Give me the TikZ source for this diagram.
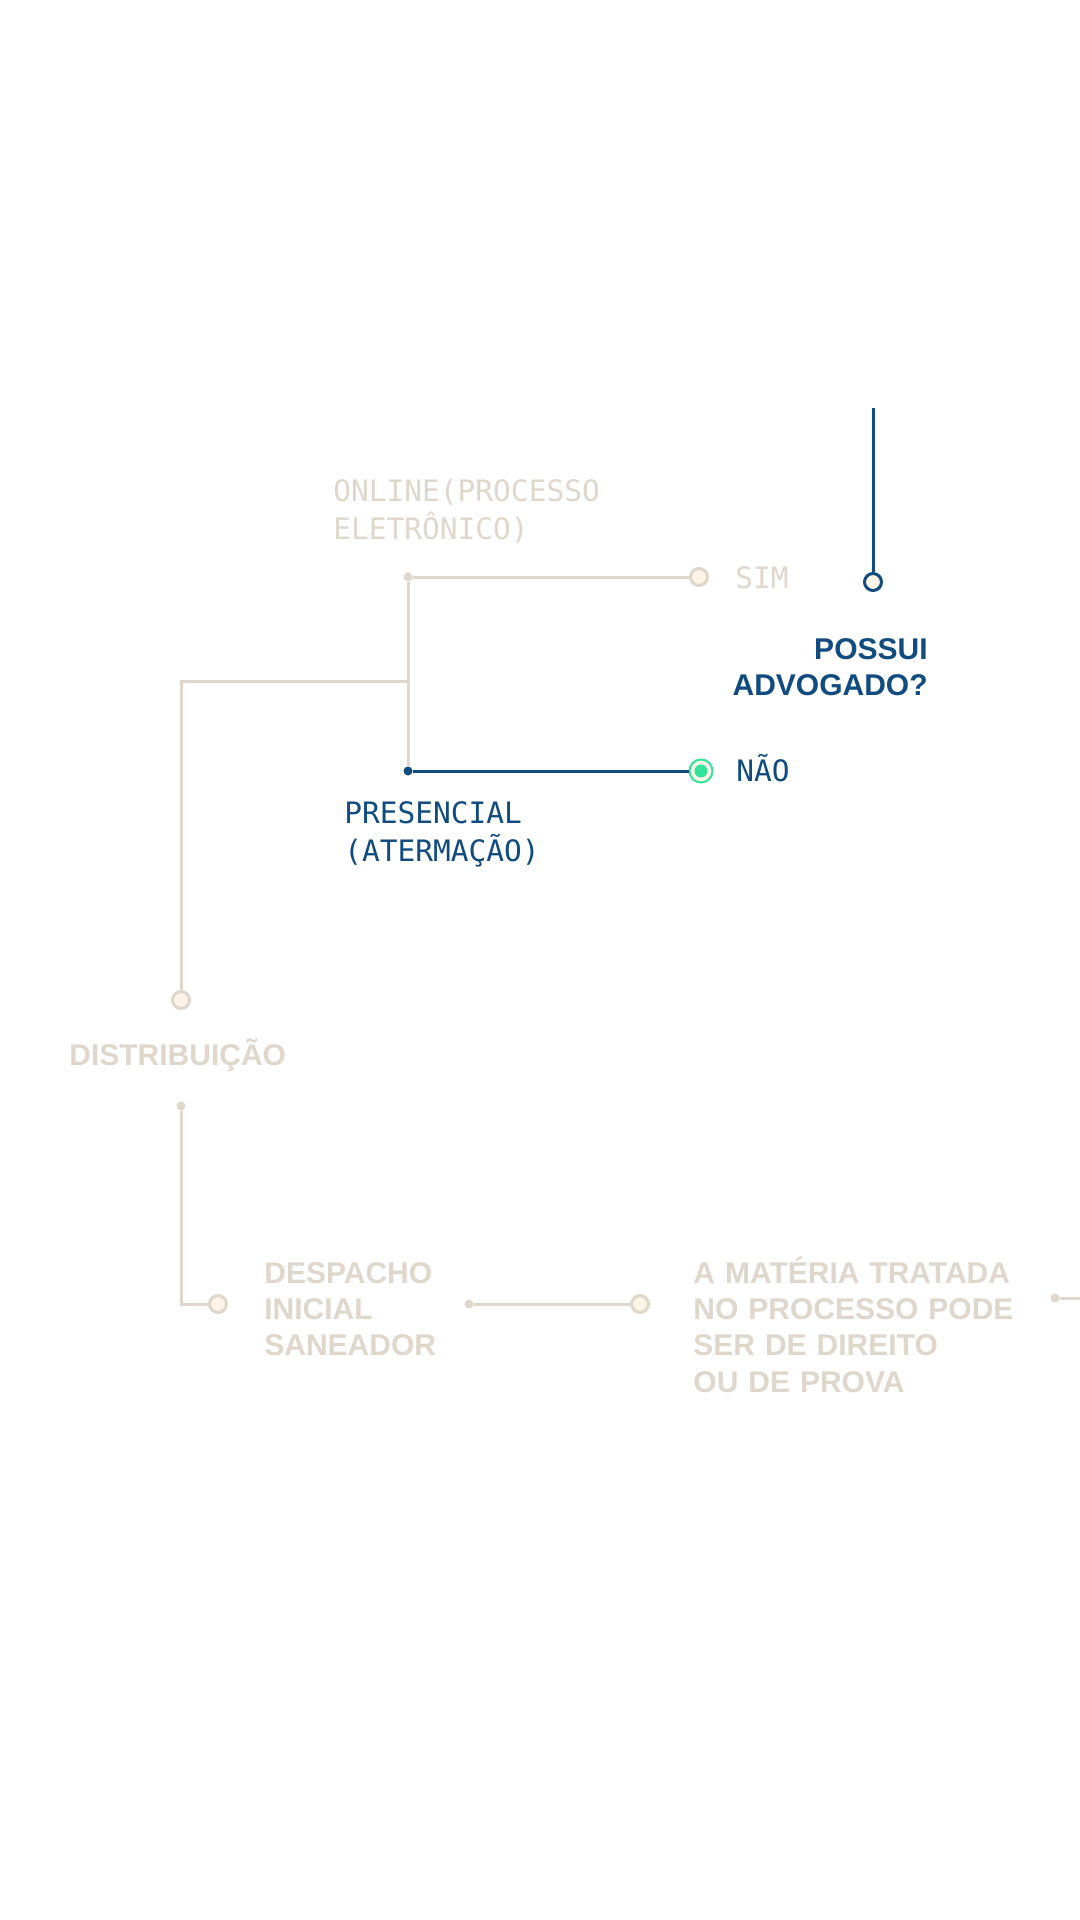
\documentclass[tikz,border=0pt]{standalone}
\usepackage{fontspec}
\newfontfamily\monof{DejaVu Sans Mono}
\newfontfamily\sansf{Liberation Sans}
\definecolor{beige}{HTML}{DFD7CB}
\definecolor{cream}{HTML}{FCF4E6}
\definecolor{navy}{HTML}{114B80}
\definecolor{mint}{HTML}{32E39B}
\tikzset{
  px/.style={x=0.5pt,y=-0.5pt},
  ring/.style={circle,draw=beige,fill=cream,line width=1.5pt,minimum size=8.5pt,inner sep=0pt},
  bluering/.style={circle,draw=navy,fill=cream,line width=1.5pt,minimum size=8.5pt,inner sep=0pt},
  greenring/.style={circle,draw=mint,fill=cream,line width=1pt,minimum size=11.5pt,inner sep=0pt},
  dotb/.style={circle,fill=beige,minimum size=4.5pt,inner sep=0pt},
  dotn/.style={circle,fill=navy,minimum size=4.5pt,inner sep=0pt},
  conn/.style={draw=beige,line width=1.5pt},
  connblue/.style={draw=navy,line width=1.5pt},
  monotext/.style={font=\monof\fontsize{14.75}{19}\selectfont,inner sep=0pt,text width=160pt,align=left,anchor=base west},
  headtext/.style={font=\sansf\bfseries\fontsize{15}{18.2}\selectfont,inner sep=0pt,anchor=base west,text width=200pt,align=left},
}
\begin{document}
\begin{tikzpicture}[px]
\useasboundingbox (0,0) rectangle (1080,1920);
% top blue stem
\coordinate (bluetop) at (873,408);
\node[bluering] (possuiC) at (873,582) {};
\draw[connblue] (bluetop) -- (possuiC);
\node[headtext,text=navy,anchor=base east,align=right] (possui) at (928,659) {POSSUI\\ADVOGADO?};
% online branch
\node[dotb] (jon) at (408,577) {};
\node[ring] (simC) at (699,577) {};
\draw[conn] (jon) -- (simC);
\node[monotext,text=beige] (online) at (333,501) {ONLINE(PROCESSO\\ELETRÔNICO)};
\node[monotext,text=beige] (sim) at (735,588) {SIM};
% presencial branch
\coordinate (brR) at (408,681);
\coordinate (brL) at (181,681);
\node[dotn] (jpre) at (408,771) {};
\node[greenring] (naoC) at (701,771) {};
\fill[mint] (naoC.center) circle (3.25pt);
\draw[conn] (jon) -- (jpre);
\draw[connblue] (jpre) -- (naoC);
\node[monotext,text=navy] (nao) at (736,781) {NÃO};
\node[monotext,text=navy] (presencial) at (344,823) {PRESENCIAL\\(ATERMAÇÃO)};
% distribuicao
\node[ring] (distC) at (181,1000) {};
\draw[conn] (brR) -- (brL) -- (distC);
\node[headtext,text=beige] (dist) at (69,1065) {DISTRIBUIÇÃO};
\node[dotb] (distD) at (181,1106) {};
\coordinate (corner) at (181,1304);
\node[ring] (despC) at (218,1304) {};
\draw[conn] (distD) -- (corner) -- (despC);
\node[headtext,text=beige] (desp) at (264,1283) {DESPACHO\\INICIAL\\SANEADOR};
\node[dotb] (despD) at (469,1304) {};
\node[ring] (matC) at (640,1304) {};
\draw[conn] (despD) -- (matC);
\node[headtext,text=beige] (mat) at (693,1283) {A MATÉRIA TRATADA\\NO PROCESSO PODE\\SER DE DIREITO\\OU DE PROVA};
\node[dotb] (matD) at (1055,1298) {};
\coordinate (edge) at (1080,1298);
\draw[conn] (matD) -- (edge);
\end{tikzpicture}
\end{document}
